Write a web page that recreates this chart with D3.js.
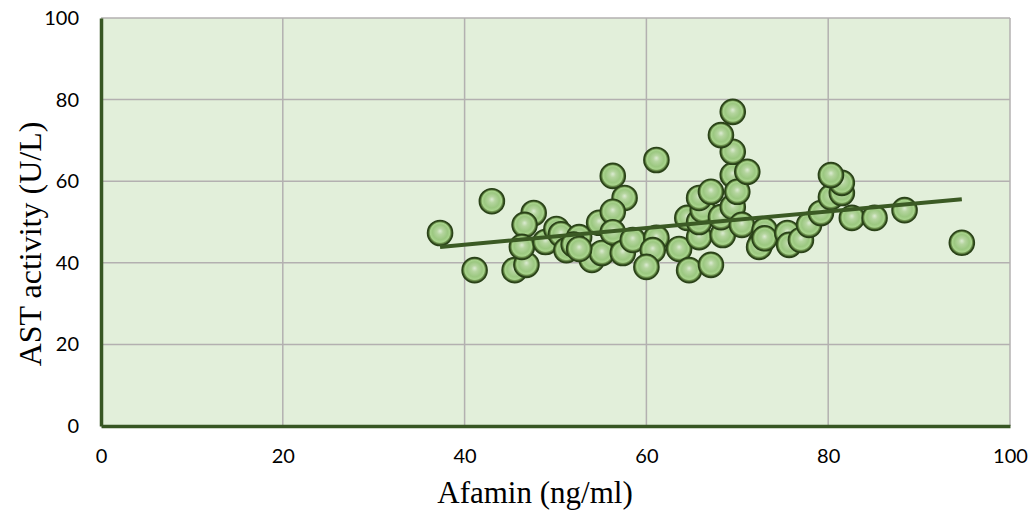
<!DOCTYPE html>
<html><head><meta charset="utf-8">
<script src="https://cdn.jsdelivr.net/npm/d3@7"></script>
<style>body{margin:0;background:#fff}</style>
</head><body><svg id="c" width="1034" height="512"></svg>
<script>
const xValues = [37.3,43.0,41.1,45.5,46.8,47.6,46.6,46.3,48.9,50.1,50.6,51.2,52.6,54.0,54.8,55.1,56.3,57.6,56.3,56.3,57.4,58.5,61.1,61.1,60.7,60.0,63.6,64.7,67.1,65.8,68.4,64.5,65.8,66.2,65.8,67.1,68.2,69.5,69.5,70.0,71.1,69.5,68.2,69.5,70.5,73.0,72.6,72.4,73.0,75.5,75.7,77.0,77.9,79.2,80.3,81.5,81.5,80.3,82.6,85.1,88.4,94.7,52.0,52.6];
const yValues = [47.3,55.1,38.2,38.2,39.5,52.2,49.3,43.9,45.1,48.3,47.0,43.1,46.3,40.7,49.8,42.4,61.3,55.9,52.5,47.5,42.4,45.6,65.2,46.1,43.1,39.0,43.4,38.2,39.5,46.3,46.8,51.0,50.0,52.9,55.9,57.4,51.2,53.7,61.5,57.4,62.3,67.2,71.3,77.0,49.3,48.0,44.9,43.9,46.0,47.3,44.4,45.6,49.3,52.2,56.1,57.1,59.6,61.5,51.0,51.0,52.9,44.9,44.5,43.4];
const trendX = [37.3, 94.7];
const trendY = [43.9, 55.6];
const xTicks = [0,20,40,60,80,100];
const yTicks = [0,20,40,60,80,100];
const xTitle = "Afamin (ng/ml)";
const yTitle = "AST activity (U/L)";

const svg = d3.select("#c");
const L=101, R=1010, T=18, B=426;
const x = d3.scaleLinear().domain([0,100]).range([L,R]);
const y = d3.scaleLinear().domain([0,100]).range([B,T]);

const defs = svg.append("defs");
const g = defs.append("radialGradient").attr("id","ball").attr("cx","50%").attr("cy","50%").attr("r","50%").attr("fx","50%").attr("fy","42%");
[[0,"#dcebd2"],[0.25,"#b5d59f"],[0.6,"#9cc881"],[0.78,"#a8d48c"],[0.86,"#6a8f4b"],[1,"#2b4519"]].forEach(([o,c])=>g.append("stop").attr("offset",o).attr("stop-color",c));

svg.append("rect").attr("x",L).attr("y",T).attr("width",R-L).attr("height",B-T).attr("fill","#e2efda");

// gridlines
svg.append("g").selectAll("line").data(xTicks.slice(1)).join("line")
  .attr("x1",d=>x(d)).attr("x2",d=>x(d)).attr("y1",T).attr("y2",B)
  .attr("stroke","#b3b0b0").attr("stroke-width",1.5);
svg.append("g").selectAll("line").data(yTicks.slice(1)).join("line")
  .attr("x1",L).attr("x2",R).attr("y1",d=>y(d)).attr("y2",d=>y(d))
  .attr("stroke","#b3b0b0").attr("stroke-width",1.5);

// axes
const xAxis = svg.append("g").attr("transform",`translate(0,${B})`)
  .call(d3.axisBottom(x).tickValues(xTicks).tickSize(0).tickPadding(23));
const yAxis = svg.append("g").attr("transform",`translate(${L},0)`)
  .call(d3.axisLeft(y).tickValues(yTicks).tickSize(0).tickPadding(22));
[xAxis,yAxis].forEach(a=>{
  a.select(".domain").attr("stroke","#375623").attr("stroke-width",3.5);
  a.selectAll("text").attr("font-family","Lato, 'Open Sans', sans-serif").attr("font-size",20).attr("fill","#000");
});

// points
const pts = xValues.map((v,i)=>({x:v,y:yValues[i]}));
svg.append("g").selectAll("circle").data(pts).join("circle")
  .attr("cx",d=>x(d.x)).attr("cy",d=>y(d.y)).attr("r",12.5)
  .attr("fill","url(#ball)").attr("stroke","#2a4218").attr("stroke-width",1.6);

// trend
svg.append("line").attr("x1",x(trendX[0])).attr("y1",y(trendY[0])).attr("x2",x(trendX[1])).attr("y2",y(trendY[1]))
  .attr("stroke","#3b5a24").attr("stroke-width",4);

svg.append("text").attr("x",535).attr("y",503).attr("text-anchor","middle")
  .attr("font-family","'Liberation Serif', 'Times New Roman', serif").attr("font-size",31).text(xTitle);
svg.append("text").attr("transform",`translate(41,${(T+B)/2 + 22}) rotate(-90)`).attr("text-anchor","middle")
  .attr("font-family","'Liberation Serif', 'Times New Roman', serif").attr("font-size",32).text(yTitle);
</script></body></html>
